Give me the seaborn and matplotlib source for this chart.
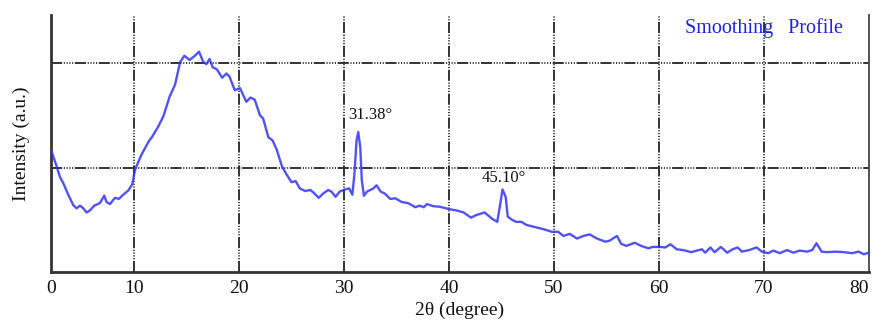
import matplotlib
matplotlib.use("Agg")
import matplotlib.pyplot as plt
import seaborn as sns
import pandas as pd

# 2-theta (degree) positions
two_theta = [
    2.1, 2.64, 2.95, 3.27, 3.74, 4.22, 4.54, 4.86, 5.17, 5.49, 5.81, 6.22, 6.76,
    7.17, 7.39, 7.71, 8.19, 8.57, 8.98, 9.46, 9.84, 10.1, 10.7, 11.4, 11.7, 12.3,
    12.8, 13.4, 13.9, 14.4, 14.8, 15.3, 15.8, 16.2, 16.6, 16.9, 17.2, 17.5, 17.9,
    18.4, 18.8, 19.1, 19.6, 20.1, 20.7, 21.1, 21.5, 22.0, 22.3, 22.8, 23.2, 23.6,
    24.1, 24.5, 25.0, 25.4, 25.8, 26.3, 26.8, 27.1, 27.6, 28.0, 28.5, 28.8, 29.2,
    29.6, 30.1, 30.5, 30.8, 31.0, 31.2, 31.36, 31.55, 31.7, 31.9, 32.2, 32.5, 32.8,
    33.1, 33.5, 33.9, 34.4, 34.9, 35.5, 36.1, 36.8, 37.2, 37.6, 37.9, 38.5, 39.1,
    40.1, 40.7, 41.4, 42.1, 42.6, 43.4, 44.1, 44.6, 44.9, 45.1, 45.4, 45.6, 46.0,
    46.4, 46.9, 47.4, 48.2, 49.0, 49.8, 50.4, 50.9, 51.5, 52.2, 52.8, 53.4, 54.1,
    54.9, 55.3, 56.0, 56.4, 56.9, 57.7, 58.3, 59.0, 59.4, 60.1, 60.6, 61.1, 61.7,
    62.3, 63.1, 63.6, 64.1, 64.4, 64.9, 65.3, 65.9, 66.5, 67.0, 67.5, 67.9, 68.6,
    69.3, 69.8, 70.4, 70.9, 71.5, 72.2, 72.8, 73.4, 74.1, 74.6, 75.0, 75.5, 76.0,
    76.8, 77.6, 78.4, 79.0, 79.5, 80.0,
]
# smoothed intensity (a.u.)
intensity = [
    1.17, 1.01, 0.91, 0.85, 0.74, 0.64, 0.61, 0.635, 0.61, 0.57, 0.59, 0.635, 0.66,
    0.73, 0.67, 0.65, 0.71, 0.70, 0.74, 0.78, 0.84, 0.98, 1.12, 1.25, 1.29, 1.39,
    1.49, 1.68, 1.79, 2.01, 2.07, 2.03, 2.07, 2.11, 2.01, 1.99, 2.04, 1.96, 1.94,
    1.86, 1.90, 1.87, 1.74, 1.76, 1.63, 1.67, 1.65, 1.50, 1.47, 1.29, 1.26, 1.17,
    1.01, 0.94, 0.86, 0.87, 0.80, 0.775, 0.785, 0.76, 0.71, 0.75, 0.785, 0.77, 0.72,
    0.77, 0.79, 0.80, 0.74, 0.94, 1.26, 1.34, 1.20, 0.88, 0.73, 0.77, 0.785, 0.80,
    0.83, 0.77, 0.75, 0.70, 0.705, 0.67, 0.66, 0.62, 0.635, 0.62, 0.65, 0.63, 0.625,
    0.60, 0.59, 0.57, 0.52, 0.545, 0.57, 0.51, 0.48, 0.66, 0.79, 0.72, 0.53, 0.50,
    0.48, 0.48, 0.45, 0.43, 0.41, 0.385, 0.385, 0.345, 0.365, 0.32, 0.345, 0.36, 0.32,
    0.29, 0.30, 0.345, 0.27, 0.25, 0.28, 0.25, 0.227, 0.24, 0.24, 0.235, 0.265, 0.217,
    0.21, 0.19, 0.205, 0.217, 0.185, 0.235, 0.19, 0.24, 0.185, 0.217, 0.235, 0.195, 0.21,
    0.235, 0.195, 0.18, 0.205, 0.18, 0.21, 0.185, 0.205, 0.195, 0.21, 0.275, 0.195, 0.19,
    0.195, 0.19, 0.18, 0.195, 0.17, 0.185,
]

tick_positions = [2.1, 10, 20, 30, 40, 50, 60, 70, 80]
tick_labels = ["0", "10", "20", "30", "40", "50", "60", "70", "80"]
y_grid = [1, 2]

peak_labels = ["31.38°", "45.10°"]
peak_label_x = [32.5, 45.2]
peak_label_y = [1.50, 0.90]

legend_text = "Smoothing   Profile"

sns.set_style("white")
plt.rcParams["font.family"] = ["Liberation Serif", "DejaVu Serif"]
plt.rcParams["lines.scale_dashes"] = False

df = pd.DataFrame({"two_theta": two_theta, "intensity": intensity})

fig = plt.figure(figsize=(8.72, 3.2), dpi=100)
ax = fig.add_axes([0.0585, 0.15, 0.938, 0.803])

sns.lineplot(data=df, x="two_theta", y="intensity", ax=ax, color="#3434f0",
             linewidth=1.7, alpha=0.85, zorder=3)

ax.set_xlim(2.1, 80)
ax.set_ylim(0, 2.46)

dash = (8, 1.2, 0.8, 1.2, 0.8, 1.2, 0.8, 1.2, 0.8, 1.2)
for xv in tick_positions[1:-1]:
    ax.axvline(xv, color="#333333", linewidth=1.4, dashes=dash, zorder=1)
for yv in y_grid:
    ax.axhline(yv, color="#333333", linewidth=1.4, dashes=dash, zorder=1)

ax.set_xticks(tick_positions)
ax.set_xticklabels(tick_labels, fontsize=14)
ax.get_xticklabels()[-1].set_horizontalalignment("right")
ax.set_yticks([])
ax.tick_params(axis="x", length=0, pad=6, colors="#111111")

ax.set_xlabel("2θ (degree)", fontsize=14, labelpad=3, color="#111111")
ax.set_ylabel("Intensity (a.u.)", fontsize=14, labelpad=15, color="#111111")

for lab, px, py in zip(peak_labels, peak_label_x, peak_label_y):
    ax.text(px, py, lab, ha="center", va="center", fontsize=12, color="#111111")

ax.text(62.5, 2.34, legend_text, ha="left", va="center", fontsize=14.5,
        color="#2020e0")

for side in ["left", "bottom"]:
    ax.spines[side].set_color("#333333")
    ax.spines[side].set_linewidth(2.0)
ax.spines["right"].set_color("#444444")
ax.spines["right"].set_linewidth(1.3)
ax.spines["top"].set_visible(False)

fig.savefig("out.png", dpi=100)
